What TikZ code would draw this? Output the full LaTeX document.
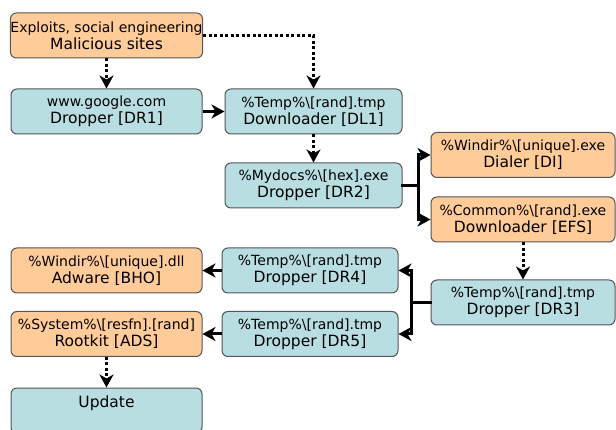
\documentclass[tikz,border=0pt]{standalone}
\usepackage{fontspec}
\setmainfont{DejaVu Sans}
\usetikzlibrary{arrows.meta}
\definecolor{boxblue}{RGB}{184,222,226}
\definecolor{boxorange}{RGB}{255,204,153}
\definecolor{boxline}{RGB}{85,85,85}
\newcommand{\pathline}[1]{{\fontsize{14}{17}\selectfont #1}}

\begin{document}
\begin{tikzpicture}[x=1pt, y=-1pt,
    box/.style={draw=boxline, line width=1pt, rounded corners=6pt, minimum height=45pt,
      inner sep=0pt, align=center, font=\fontsize{15.5}{17}\selectfont},
    cyanbox/.style={box, fill=boxblue},
    peachbox/.style={box, fill=boxorange},
    flow/.style={line width=3pt, -{Stealth[length=13pt, width=14pt, inset=4pt]}},
    hint/.style={flow, dash pattern=on 3pt off 2.5pt},
    bar/.style={line width=3pt, line cap=rect}]
    \useasboundingbox (0,0) rectangle (616,430);

    \node[peachbox, minimum width=191pt] (mal) at (106.5,35.5) {\pathline{Exploits, social engineering}\\ Malicious sites};
    \node[cyanbox, minimum width=191pt] (dr1) at (106.5,111.5) {\pathline{www.google.com}\\ Dropper [DR1]};
    \node[cyanbox, minimum width=177pt] (dl1) at (313.5,111.5) {\pathline{\%Temp\%\textbackslash[rand].tmp}\\ Downloader [DL1]};
    \node[cyanbox, minimum width=177pt] (dr2) at (313.5,185.5) {\pathline{\%Mydocs\%\textbackslash[hex].exe}\\ Dropper [DR2]};
    \node[peachbox, minimum width=184pt] (di) at (523,155) {\pathline{\%Windir\%\textbackslash[unique].exe}\\ Dialer [DI]};
    \node[peachbox, minimum width=184pt] (efs) at (523,219.5) {\pathline{\%Common\%\textbackslash[rand].exe}\\ Downloader [EFS]};
    \node[cyanbox, minimum width=184pt] (dr3) at (523,302.5) {\pathline{\%Temp\%\textbackslash[rand].tmp}\\ Dropper [DR3]};
    \node[cyanbox, minimum width=176pt] (dr4) at (310,270.5) {\pathline{\%Temp\%\textbackslash[rand].tmp}\\ Dropper [DR4]};
    \node[cyanbox, minimum width=176pt] (dr5) at (310,334) {\pathline{\%Temp\%\textbackslash[rand].tmp}\\ Dropper [DR5]};
    \node[peachbox, minimum width=191pt] (bho) at (106.5,270.5) {\pathline{\%Windir\%\textbackslash[unique].dll}\\ Adware [BHO]};
    \node[peachbox, minimum width=191pt] (ads) at (106.5,334) {\pathline{\%System\%\textbackslash[resfn].[rand]}\\ Rootkit [ADS]};
    \node[cyanbox, minimum width=191pt] (upd) at (106.5,410.5) {Update\\ \mbox{}};

    \coordinate (fork2) at (418,0);
    \coordinate (fork3) at (411,0);

    \draw[hint] (mal.south) -- (dr1.north);
    \draw[hint] (mal.east) -| (dl1.north);
    \draw[flow] (dr1.east) -- (dl1.west);
    \draw[hint] (dl1.south) -- (dr2.north);
    \draw[bar] (dr2.east) -- (dr2.east -| fork2);
    \draw[bar] (fork2 |- di.west) -- (fork2 |- efs.west);
    \draw[flow] (fork2 |- di.west) -- (di.west);
    \draw[flow] (fork2 |- efs.west) -- (efs.west);
    \draw[hint] (efs.south) -- (dr3.north);
    \draw[bar] (dr3.west) -- (dr3.west -| fork3);
    \draw[bar] (fork3 |- dr4.east) -- (fork3 |- dr5.east);
    \draw[flow] (fork3 |- dr4.east) -- (dr4.east);
    \draw[flow] (fork3 |- dr5.east) -- (dr5.east);
    \draw[flow] (dr4.west) -- (bho.east);
    \draw[flow] (dr5.west) -- (ads.east);
    \draw[hint] (ads.south) -- (upd.north);
\end{tikzpicture}
\end{document}
